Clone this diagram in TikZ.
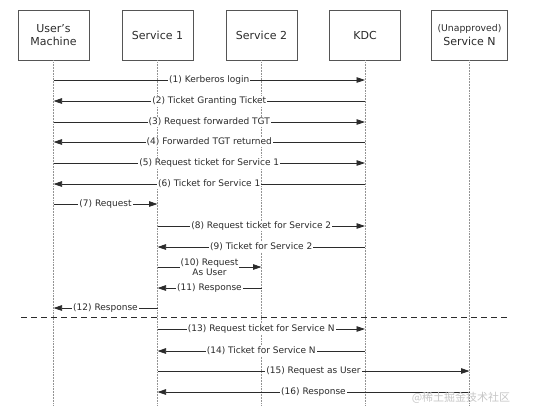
\documentclass[tikz,border=0pt]{standalone}
\usepackage{fontspec}
\setmainfont{DejaVu Sans}
\newfontfamily\cjk{Noto Sans CJK SC}
\usetikzlibrary{arrows.meta}
\definecolor{ink}{HTML}{2b2b2b}
\definecolor{boxline}{HTML}{555555}
\begin{document}
\begin{tikzpicture}[x=1pt,y=1pt,
  actor/.style={draw=boxline,line width=0.9pt,minimum width=71pt,minimum height=50pt,align=center,text=ink,font=\fontsize{11}{13.5}\selectfont,inner sep=1pt},
  life/.style={draw=gray!85,line width=0.55pt,densely dotted},
  msg/.style={draw=ink,line width=0.75pt,-{Triangle[length=8.5pt,width=5.5pt]}},
  lbl/.style={fill=white,inner sep=1pt,text=ink,font=\fontsize{9}{9.8}\selectfont,align=center},
  sep/.style={draw=ink,line width=0.8pt,dash pattern=on 6pt off 4pt}]
\useasboundingbox (0,0) rectangle (541,-416);
% actors
\node[actor] (U) at (53.5,-35) {User's\\Machine};
\node[actor] (S1) at (157.5,-35) {Service 1};
\node[actor] (S2) at (261.5,-35) {Service 2};
\node[actor] (K) at (365,-35) {KDC};
\node[actor,minimum width=76pt] (N) at (469.5,-35) {{\fontsize{9.3}{10.5}\selectfont (Unapproved)}\\Service N};
% lifeline ends
\coordinate (Ue) at (53.5,-406);
\coordinate (S1e) at (157.5,-406);
\coordinate (S2e) at (261.5,-406);
\coordinate (Ke) at (365,-406);
\coordinate (Ne) at (469.5,-406);
\draw[life] (U.south) -- (Ue);
\draw[life] (S1.south) -- (S1e);
\draw[life] (S2.south) -- (S2e);
\draw[life] (K.south) -- (Ke);
\draw[life] (N.south) -- (Ne);
% message endpoints
\foreach \n/\y in {1/80,2/101,3/122,4/142,5/163,6/184,7/204,8/226,9/247,10/267,11/288,12/308,13/329,14/351,15/371,16/392}{
  \coordinate (u\n) at (53.5,-\y);
  \coordinate (a\n) at (157.5,-\y);
  \coordinate (b\n) at (261.5,-\y);
  \coordinate (k\n) at (365,-\y);
  \coordinate (n\n) at (469.5,-\y);
}
\draw[msg] (u1) -- node[lbl]{(1) Kerberos login} (k1);
\draw[msg] (k2) -- node[lbl]{(2) Ticket Granting Ticket} (u2);
\draw[msg] (u3) -- node[lbl]{(3) Request forwarded TGT} (k3);
\draw[msg] (k4) -- node[lbl]{(4) Forwarded TGT returned} (u4);
\draw[msg] (u5) -- node[lbl]{(5) Request ticket for Service 1} (k5);
\draw[msg] (k6) -- node[lbl]{(6) Ticket for Service 1} (u6);
\draw[msg] (u7) -- node[lbl]{(7) Request} (a7);
\draw[msg] (a8) -- node[lbl]{(8) Request ticket for Service 2} (k8);
\draw[msg] (k9) -- node[lbl]{(9) Ticket for Service 2} (a9);
\draw[msg] (a10) -- node[lbl]{(10) Request\\As User} (b10);
\draw[msg] (b11) -- node[lbl]{(11) Response} (a11);
\draw[msg] (a12) -- node[lbl]{(12) Response} (u12);
% separator
\coordinate (sepL) at (21,-317);
\coordinate (sepR) at (507,-317);
\draw[sep] (sepL) -- (sepR);
\draw[msg] (a13) -- node[lbl]{(13) Request ticket for Service N} (k13);
\draw[msg] (k14) -- node[lbl]{(14) Ticket for Service N} (a14);
\draw[msg] (a15) -- node[lbl]{(15) Request as User} (n15);
\draw[msg] (n16) -- node[lbl]{(16) Response} (a16);
% watermark
\node[text=gray!45,font=\cjk\fontsize{11}{12}\selectfont,inner sep=0pt] (wm) at (461,-398) {@稀土掘金技术社区};
\end{tikzpicture}
\end{document}
